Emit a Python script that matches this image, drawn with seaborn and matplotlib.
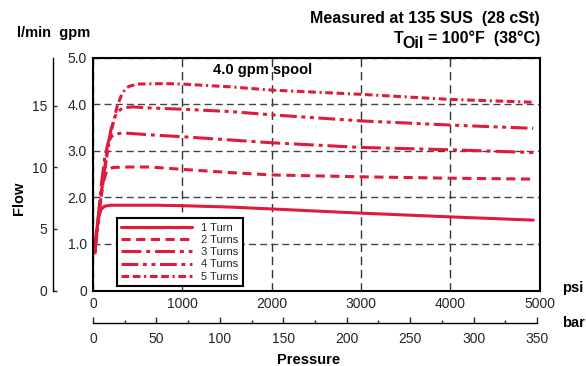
import pandas as pd
import matplotlib.pyplot as plt
import seaborn as sns
from matplotlib.ticker import MultipleLocator

# values: pressure in psi, flow in gpm
turn1_psi = [13, 35, 60, 90, 130, 200, 700, 1000, 1540, 2000, 3000, 4000, 4930]
turn1_gpm = [0.80, 1.20, 1.55, 1.74, 1.81, 1.83, 1.83, 1.82, 1.79, 1.75, 1.66, 1.58, 1.51]

turn2_psi = [20, 55, 100, 150, 220, 400, 640, 1000, 1540, 2000, 3000, 4000, 4930]
turn2_gpm = [0.80, 1.50, 2.20, 2.55, 2.64, 2.65, 2.65, 2.60, 2.53, 2.48, 2.44, 2.41, 2.39]

turn3_psi = [20, 55, 95, 135, 180, 240, 350, 640, 1000, 1540, 2000, 3000, 4000, 4930]
turn3_gpm = [0.80, 1.50, 2.30, 2.90, 3.25, 3.36, 3.38, 3.34, 3.30, 3.23, 3.17, 3.07, 3.02, 2.96]

turn4_psi = [20, 60, 105, 150, 200, 260, 330, 450, 600, 1000, 1540, 2000, 3000, 4000, 4930]
turn4_gpm = [0.80, 1.50, 2.25, 2.90, 3.45, 3.80, 3.92, 3.94, 3.92, 3.89, 3.84, 3.77, 3.64, 3.55, 3.48]

turn5_psi = [20, 60, 110, 160, 215, 270, 330, 400, 500, 800, 1000, 1540, 2000, 3000, 4000, 4930]
turn5_gpm = [0.80, 1.50, 2.30, 2.95, 3.50, 3.95, 4.25, 4.38, 4.43, 4.44, 4.43, 4.37, 4.30, 4.21, 4.10, 4.04]

turn_labels = ['1 Turn', '2 Turns', '3 Turns', '4 Turns', '5 Turns']

psi_ticks = [0, 1000, 2000, 3000, 4000, 5000]
gpm_ticks = [0, 1, 2, 3, 4, 5]
gpm_tick_labels = ['0', '1.0', '2.0', '3.0', '4.0', '5.0']
lpm_ticks = [0, 5, 10, 15]
bar_ticks = [0, 50, 100, 150, 200, 250, 300, 350]

GPM_TO_LPM = 3.785

curves = [(turn1_psi, turn1_gpm), (turn2_psi, turn2_gpm), (turn3_psi, turn3_gpm),
          (turn4_psi, turn4_gpm), (turn5_psi, turn5_gpm)]
df = pd.concat([pd.DataFrame({'psi': p, 'gpm': g, 'turns': lab})
                for (p, g), lab in zip(curves, turn_labels)])

RED = '#e01a3c'
dash_styles = {
    '1 Turn': '-',
    '2 Turns': (0, (3.0, 1.8)),
    '3 Turns': (0, (6.5, 1.6, 1.3, 1.6)),
    '4 Turns': (0, (5.5, 1.5, 1.3, 1.5, 1.3, 1.5)),
    '5 Turns': (0, (2.5, 1.2, 2.5, 1.2, 0.7, 1.2)),
}

sns.set_style('white')
plt.rcParams['font.family'] = ['Liberation Sans', 'DejaVu Sans']

W, H = 586, 366
fig = plt.figure(figsize=(W / 100, H / 100), dpi=100)


def fx(px):
    return px / W


def fy(py):
    return 1 - py / H


# main axes (psi / gpm)
ax = fig.add_axes([fx(93), fy(290.5), fx(539.5) - fx(93), fy(57.5) - fy(290.5)])
for lab in turn_labels:
    sub = df[df['turns'] == lab]
    sns.lineplot(data=sub, x='psi', y='gpm', ax=ax, color=RED, lw=2.2,
                 linestyle=dash_styles[lab], label=lab, estimator=None)

ax.set_xlim(0, 5000)
ax.set_ylim(0, 5)
ax.set_xticks(psi_ticks)
ax.set_yticks(gpm_ticks)
ax.set_yticklabels(gpm_tick_labels)
ax.set_xlabel('')
ax.set_ylabel('')
ax.tick_params(axis='x', length=0, labelsize=10, pad=5)
ax.tick_params(axis='y', length=0, labelsize=10, pad=4.3)
ax.xaxis.grid(True, color='#333333', lw=1.0, ls=(0, (6, 3.5)))
ax.yaxis.grid(True, color='#444444', lw=1.0, ls=(0, (5, 3)))
ax.set_axisbelow(True)
for s in ax.spines.values():
    s.set_visible(True)
    s.set_color('black')
    s.set_linewidth(1.5)

leg = ax.legend(loc='upper left', bbox_to_anchor=(fx(116.7), fy(218.3)),
                bbox_transform=fig.transFigure, borderaxespad=0, fontsize=8,
                handlelength=6.4, handletextpad=0.8, labelspacing=0.2,
                borderpad=0.4, frameon=True, fancybox=False, framealpha=1,
                edgecolor='black')
leg.get_frame().set_linewidth(1.5)

# l/min scale on the far left
ax_l = fig.add_axes([fx(53), fy(290.5), 0, fy(57.5) - fy(290.5)])
ax_l.set_ylim(0, 5 * GPM_TO_LPM)
ax_l.set_yticks(lpm_ticks)
ax_l.set_xticks([])
ax_l.patch.set_visible(False)
for side in ['top', 'right', 'bottom']:
    ax_l.spines[side].set_visible(False)
ax_l.spines['left'].set_linewidth(1.0)
ax_l.spines['left'].set_color('black')
ax_l.tick_params(axis='y', left=True, direction='in', length=3, width=1,
                 labelsize=10, pad=4.3)

# bar scale under the psi axis
ax_b = fig.add_axes([fx(93), fy(323.3), fx(537) - fx(93), 0])
ax_b.set_xlim(0, 350)
ax_b.set_xticks(bar_ticks)
ax_b.xaxis.set_minor_locator(MultipleLocator(25))
ax_b.set_yticks([])
ax_b.patch.set_visible(False)
for side in ['top', 'right', 'left']:
    ax_b.spines[side].set_visible(False)
ax_b.spines['bottom'].set_linewidth(1.0)
ax_b.spines['bottom'].set_color('black')
ax_b.tick_params(axis='x', which='major', bottom=True, direction='in', length=4.5,
                 width=1, labelsize=10, pad=6)
ax_b.tick_params(axis='x', which='minor', bottom=True, direction='in', length=2.5, width=1)

# text
bold = dict(fontweight='bold', color='black')
fig.text(fx(540), fy(22.7), 'Measured at 135 SUS  (28 cSt)', ha='right', va='baseline',
         fontsize=11.5, **bold)
r = fig.canvas.get_renderer()
t_rest = fig.text(fx(540), fy(42.7), '= 100°F  (38°C)', ha='right', va='baseline',
                  fontsize=11.5, **bold)
bb = t_rest.get_window_extent(renderer=r)
t_oil = fig.text((bb.x0 - 4) / W, fy(48.3), 'Oil', ha='right', va='baseline',
                 fontsize=11.5, **bold)
bb2 = t_oil.get_window_extent(renderer=r)
fig.text((bb2.x0 + 1.5) / W, fy(42.7), 'T', ha='right', va='baseline', fontsize=11.5, **bold)

fig.text(fx(17), fy(37.3), 'l/min  gpm', ha='left', va='baseline', fontsize=10.5, **bold)
fig.text(fx(213), fy(74), '4.0 gpm spool', ha='left', va='baseline', fontsize=10.5, **bold)
fig.text(fx(18.7), fy(198), 'Flow', rotation=90, ha='center', va='center', fontsize=10.5, **bold)
fig.text(fx(309), fy(360), 'Pressure', ha='center', va='center', fontsize=10.5, **bold)
fig.text(fx(562), fy(288), 'psi', ha='left', va='center', fontsize=10.5, **bold)
fig.text(fx(562), fy(323.3), 'bar', ha='left', va='center', fontsize=10.5, **bold)

fig.savefig('out.png', dpi=100)
